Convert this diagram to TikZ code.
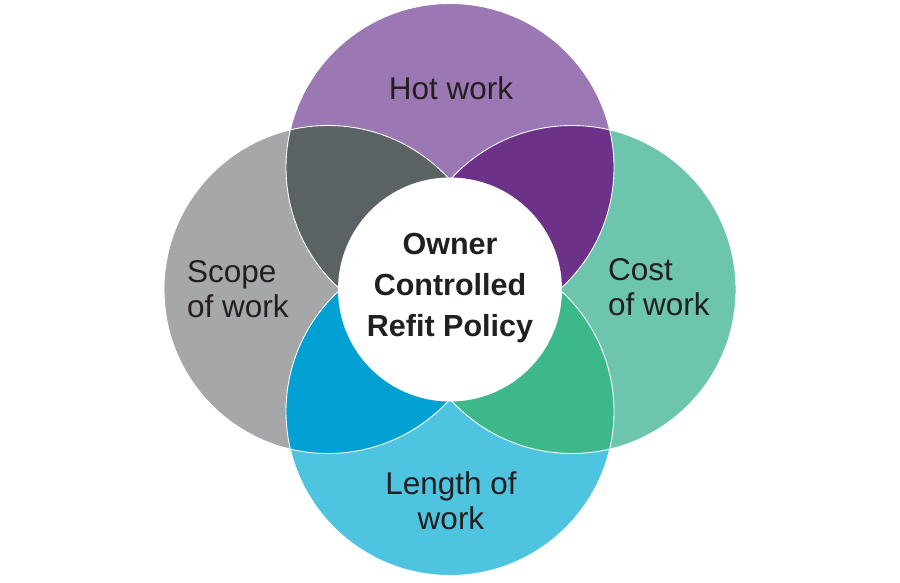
\documentclass[tikz,border=0pt]{standalone}
\usepackage{fontspec}
\setmainfont{Liberation Sans}
\usetikzlibrary{positioning}

\definecolor{hotlight}{HTML}{9B77B4}
\definecolor{hotdark}{HTML}{6C3189}
\definecolor{costlight}{HTML}{6DC5AD}
\definecolor{costdark}{HTML}{3DB88B}
\definecolor{lengthlight}{HTML}{4EC4E0}
\definecolor{lengthdark}{HTML}{00A1D2}
\definecolor{scopelight}{HTML}{A6A7A9}
\definecolor{scopedark}{HTML}{5B6264}
\definecolor{labeltext}{HTML}{231F20}

\begin{document}
\begin{tikzpicture}[x=1pt,y=-1pt,every node/.style={text=labeltext,inner sep=0pt},
  outerlabel/.style={font=\fontsize{31.5}{34.5}\selectfont},
  centrelabel/.style={font=\bfseries\fontsize{30.5}{41}\selectfont,align=center}]
\useasboundingbox (0,0) rectangle (900,583);
\coordinate (cmid) at (450,289.5);
\coordinate (ctop) at (450,167.5);
\coordinate (cbot) at (450,411.5);
\coordinate (cleft) at (328,289.5);
\coordinate (cright) at (572,289.5);
% outer circles
\fill[hotlight] (ctop) circle (164pt);
\fill[costlight] (cright) circle (164pt);
\fill[lengthlight] (cbot) circle (164pt);
\fill[scopelight] (cleft) circle (164pt);
% overlaps
\begin{scope}
\clip (ctop) circle (164pt);
\fill[scopedark] (cleft) circle (164pt);
\fill[hotdark] (cright) circle (164pt);
\end{scope}
\begin{scope}
\clip (cbot) circle (164pt);
\fill[lengthdark] (cleft) circle (164pt);
\fill[costdark] (cright) circle (164pt);
\end{scope}
\draw[white,line width=.9pt] (ctop) circle (164pt) (cright) circle (164pt)
  (cbot) circle (164pt) (cleft) circle (164pt);
\fill[white] (cmid) circle (112pt);
% labels (base = last line)
\node[outerlabel,anchor=base] (hot) at (451,100) {Hot work};
\node[outerlabel,anchor=base west,align=left] (scope) at (187,317) {Scope\\of work};
\node[outerlabel,anchor=base west,align=left] (cost) at (608,315) {Cost\\of work};
\node[outerlabel,anchor=base,align=center] (length) at (451,529) {Length of\\work};
\node[centrelabel,anchor=base] (policy) at (450,336) {Owner\\Controlled\\Refit Policy};
\end{tikzpicture}
\end{document}
